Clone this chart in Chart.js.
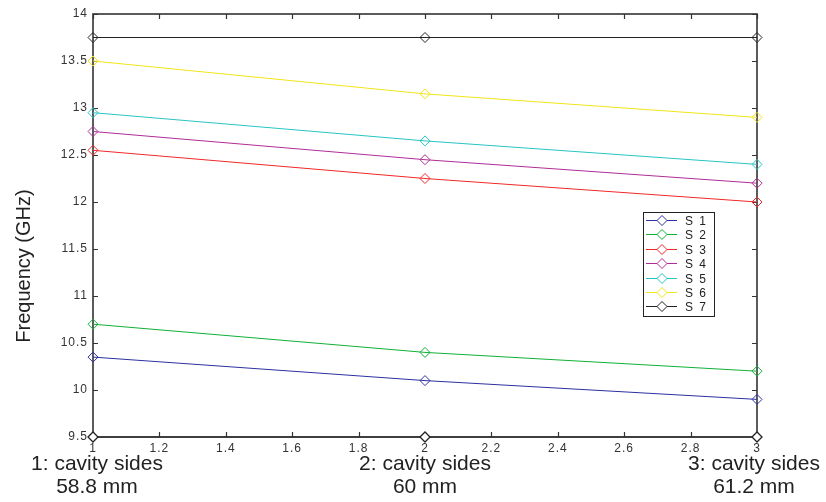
<!DOCTYPE html>
<html><head><meta charset="utf-8">
<script src="https://cdn.jsdelivr.net/npm/chart.js@4.4.1/dist/chart.umd.min.js"></script>
<style>html,body{margin:0;padding:0;background:#fff}#w{width:826px;height:502px}</style>
</head><body><div id="w"><canvas id="c" width="826" height="502"></canvas></div>
<script>
// ---- data ----
const xValues = [1, 2, 3];
const seriesNames = ['S1', 'S2', 'S3', 'S4', 'S5', 'S6', 'S7'];
const s1 = [10.35, 10.1, 9.9];
const s2 = [10.7, 10.4, 10.2];
const s3 = [12.55, 12.25, 12.0];
const s4 = [12.75, 12.45, 12.2];
const s5 = [12.95, 12.65, 12.4];
const s6 = [13.5, 13.15, 12.9];
const s7 = [13.75, 13.75, 13.75];
const baseSeries = [9.5, 9.5, 9.5];
const xTicks = [1, 1.2, 1.4, 1.6, 1.8, 2, 2.2, 2.4, 2.6, 2.8, 3];
const yTicks = [9.5, 10, 10.5, 11, 11.5, 12, 12.5, 13, 13.5, 14];
const categoryLabels = [['1: cavity sides', '58.8 mm'], ['2: cavity sides', '60 mm'], ['3: cavity sides', '61.2 mm']];
const yTitle = 'Frequency (GHz)';
const seriesColors = ['#2c30a0', '#10b038', '#f02828', '#b02c98', '#28c4c4', '#f2e418', '#222222'];

const allSeries = [s1, s2, s3, s4, s5, s6, s7];
const datasets = allSeries.map((s, i) => ({
  label: seriesNames[i],
  data: s.map((v, j) => ({x: xValues[j], y: v})),
  borderColor: seriesColors[i],
  backgroundColor: 'rgba(255,255,255,0)',
  borderWidth: 1,
  pointStyle: 'rectRot',
  pointRadius: 5,
  pointBorderWidth: 1,
  pointBackgroundColor: 'rgba(255,255,255,0)',
  pointBorderColor: seriesColors[i],
  tension: 0,
  clip: false
}));
datasets.push({
  label: '',
  inLegend: false,
  data: baseSeries.map((v, j) => ({x: xValues[j], y: v})),
  borderColor: '#222222',
  borderWidth: 1,
  pointStyle: 'rectRot',
  pointRadius: 5,
  pointBorderWidth: 1.3,
  pointBackgroundColor: '#ffffff',
  pointBorderColor: '#222222',
  clip: false
});

const fmt = v => String(Number(v.toFixed(2)));

const framePlugin = {
  id: 'frame',
  beforeDraw(chart) { chart.ctx.letterSpacing = '1px'; },
  beforeDatasetsDraw(chart) {
    const ctx = chart.ctx;
    const {left, right, top, bottom} = chart.chartArea;
    const xs = chart.scales.x, ys = chart.scales.y;
    ctx.save();
    ctx.strokeStyle = '#333';
    ctx.lineWidth = 1.6;
    ctx.strokeRect(left, top, right - left, bottom - top);
    ctx.lineWidth = 1.2;
    ctx.beginPath();
    const L = 5;
    xTicks.forEach(v => {
      const p = Math.round(xs.getPixelForValue(v)) + 0.5;
      ctx.moveTo(p, bottom); ctx.lineTo(p, bottom - L);
      ctx.moveTo(p, top); ctx.lineTo(p, top + L);
    });
    yTicks.forEach(v => {
      const p = Math.round(ys.getPixelForValue(v)) + 0.5;
      ctx.moveTo(left, p); ctx.lineTo(left + L, p);
      ctx.moveTo(right, p); ctx.lineTo(right - L, p);
    });
    ctx.stroke();
    ctx.restore();
  },
  afterDraw(chart) {
    const ctx = chart.ctx;
    const xs = chart.scales.x;
    ctx.save();
    ctx.letterSpacing = '0px';
    // category labels
    ctx.fillStyle = '#222';
    ctx.font = '21px "Liberation Sans", Arial, sans-serif';
    ctx.textAlign = 'center';
    ctx.textBaseline = 'alphabetic';
    const offs = [4, 0, -3];
    categoryLabels.forEach((lines, i) => {
      const cx = xs.getPixelForValue(xValues[i]) + offs[i];
      ctx.fillText(lines[0], cx, 470);
      ctx.fillText(lines[1], cx, 493);
    });
    // y title
    ctx.save();
    ctx.translate(30, 266);
    ctx.rotate(-Math.PI / 2);
    ctx.font = '20px "Liberation Sans", Arial, sans-serif';
    ctx.textBaseline = 'alphabetic';
    ctx.fillText(yTitle, 0, 0);
    ctx.restore();
    // legend
    const bx = 643, by = 212, bw = 71, bh = 104;
    ctx.fillStyle = '#fff';
    ctx.fillRect(bx, by, bw, bh);
    ctx.strokeStyle = '#222';
    ctx.lineWidth = 1;
    ctx.strokeRect(bx + 0.5, by + 0.5, bw, bh);
    const items = chart.data.datasets.filter(d => d.inLegend !== false);
    ctx.font = '12px "Liberation Sans", Arial, sans-serif';
    ctx.letterSpacing = '1.5px';
    ctx.textAlign = 'left';
    ctx.textBaseline = 'middle';
    items.forEach((d, i) => {
      const y = Math.round(by + 8 + i * 14.4) + 0.5;
      ctx.strokeStyle = d.borderColor;
      ctx.lineWidth = 1;
      ctx.beginPath();
      ctx.moveTo(646, y); ctx.lineTo(677, y);
      ctx.stroke();
      ctx.beginPath();
      const cx = 662, r = 5;
      ctx.moveTo(cx, y - r); ctx.lineTo(cx + r, y); ctx.lineTo(cx, y + r); ctx.lineTo(cx - r, y); ctx.closePath();
      ctx.fillStyle = '#fff';
      ctx.fill();
      ctx.stroke();
      ctx.fillStyle = '#222';
      ctx.fillText(d.label.replace(/(\D)(\d)/, '$1 $2'), 685, y + 1);
    });
    ctx.restore();
  }
};

new Chart(document.getElementById('c'), {
  type: 'line',
  data: {datasets},
  options: {
    responsive: false,
    animation: false,
    devicePixelRatio: 1,
    layout: {padding: {left: 0, right: 69, top: 14, bottom: 0}},
    plugins: {legend: {display: false}, tooltip: {enabled: false}},
    scales: {
      x: {
        type: 'linear', min: 1, max: 3,
        afterBuildTicks: s => { s.ticks = xTicks.map(v => ({value: v})); },
        afterFit: s => { s.height = 65; },
        grid: {display: false, drawTicks: false},
        border: {display: false},
        ticks: {
          color: '#333', padding: 4, maxRotation: 0, autoSkip: false,
          font: {family: '"Liberation Sans", Arial, sans-serif', size: 12},
          callback: v => fmt(v)
        }
      },
      y: {
        type: 'linear', min: 9.5, max: 14,
        afterBuildTicks: s => { s.ticks = yTicks.map(v => ({value: v})); },
        afterFit: s => { s.width = 93; },
        grid: {display: false, drawTicks: false},
        border: {display: false},
        ticks: {
          color: '#333', padding: 5, autoSkip: false,
          font: {family: '"Liberation Sans", Arial, sans-serif', size: 12},
          callback: v => fmt(v)
        }
      }
    }
  },
  plugins: [framePlugin]
});
</script>
</body></html>
